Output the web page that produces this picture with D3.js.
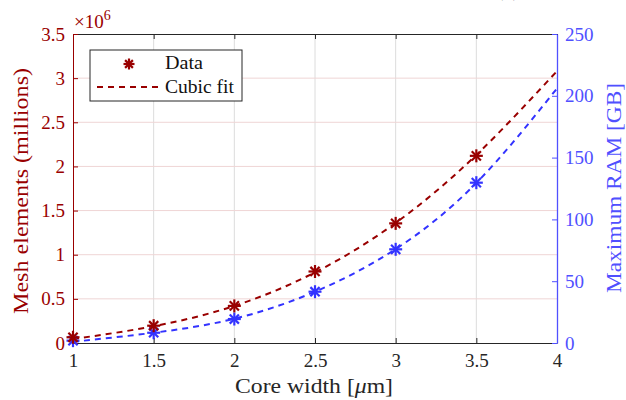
<!DOCTYPE html>
<html><head><meta charset="utf-8">
<script src="https://cdn.jsdelivr.net/npm/d3@7"></script>
<style>
html,body{margin:0;padding:0;background:#fff;}
svg{display:block;}
text{font-family:"Liberation Serif","DejaVu Serif",serif;}
</style></head>
<body>
<svg id="chart" width="626" height="400"></svg>
<script>
(function(){
// Data
const coreWidth = [1, 1.5, 2, 2.5, 3, 3.5];
const meshElements = [0.065e6, 0.196e6, 0.42e6, 0.81e6, 1.355e6, 2.12e6];
const maxRAM = [1.9, 8.3, 19.4, 41.5, 75.8, 129.7];
const fitX = [1, 1.5, 2, 2.5, 3, 3.5, 4];
const meshFit = [0.045e6, 0.19e6, 0.42e6, 0.80e6, 1.36e6, 2.13e6, 3.08e6];
const ramFit = [1.0, 8.3, 19.6, 41.5, 76.0, 129.5, 206];
const xTicks = [1, 1.5, 2, 2.5, 3, 3.5, 4];
const leftTicks = [0, 0.5e6, 1e6, 1.5e6, 2e6, 2.5e6, 3e6, 3.5e6];
const rightTicks = [0, 50, 100, 150, 200, 250];

const RED = "#990000", BLUE = "#3333ff", BLUEAX = "#5050ff";
const svg = d3.select("#chart");
const L = 73, R = 557, T = 34, B = 343;
const x = d3.scaleLinear().domain([1, 4]).range([L, R]);
const yL = d3.scaleLinear().domain([0, 3.5e6]).range([B, T]);
const yR = d3.scaleLinear().domain([0, 250]).range([B, T]);

// grid
const g = svg.append("g");
g.selectAll(".vg").data(xTicks.slice(1, -1)).enter().append("line")
  .attr("x1", d => x(d)).attr("x2", d => x(d)).attr("y1", T).attr("y2", B)
  .attr("stroke", "#dcdcdc").attr("stroke-width", 1);
g.selectAll(".hg").data(leftTicks.slice(1, -1)).enter().append("line")
  .attr("x1", L).attr("x2", R).attr("y1", d => yL(d)).attr("y2", d => yL(d))
  .attr("stroke", "#efd5d5").attr("stroke-width", 1);

// axes
const tickLen = 5, FS = 19;
const axB = svg.append("g").attr("transform", `translate(0,${B})`)
  .call(d3.axisBottom(x).tickValues(xTicks).tickSizeInner(-tickLen).tickSizeOuter(0).tickPadding(11).tickFormat(d3.format("")));
axB.select(".domain").attr("stroke", "#262626");
axB.selectAll(".tick line").attr("stroke", "#262626");
axB.selectAll("text").attr("fill", "#262626").attr("font-size", FS).attr("font-family", "Liberation Serif");

const axT = svg.append("g").attr("transform", `translate(0,${T})`)
  .call(d3.axisTop(x).tickValues(xTicks).tickSizeInner(-tickLen).tickSizeOuter(0).tickFormat(""));
axT.select(".domain").attr("stroke", "#262626");
axT.selectAll(".tick line").attr("stroke", "#262626");

const axL = svg.append("g").attr("transform", `translate(${L},0)`)
  .call(d3.axisLeft(yL).tickValues(leftTicks).tickSizeInner(-tickLen).tickSizeOuter(0).tickPadding(8)
    .tickFormat(d => d3.format("")(d / 1e6)));
axL.select(".domain").attr("stroke", RED);
axL.selectAll(".tick line").attr("stroke", RED);
axL.selectAll("text").attr("fill", RED).attr("font-size", FS).attr("font-family", "Liberation Serif");

const axR = svg.append("g").attr("transform", `translate(${R},0)`)
  .call(d3.axisRight(yR).tickValues(rightTicks).tickSizeInner(-tickLen).tickSizeOuter(0).tickPadding(8));
axR.select(".domain").attr("stroke", BLUEAX).attr("stroke-width", 1.3);
axR.selectAll(".tick line").attr("stroke", BLUEAX);
axR.selectAll("text").attr("fill", BLUEAX).attr("font-size", FS).attr("font-family", "Liberation Serif");

// fit lines
const lineL = d3.line().x((d, i) => x(fitX[i])).y(d => yL(d)).curve(d3.curveNatural);
const lineR = d3.line().x((d, i) => x(fitX[i])).y(d => yR(d)).curve(d3.curveNatural);
svg.append("path").attr("d", lineR(ramFit)).attr("fill", "none").attr("stroke", BLUE)
  .attr("stroke-width", 2).attr("stroke-dasharray", "6,5");
svg.append("path").attr("d", lineL(meshFit)).attr("fill", "none").attr("stroke", RED)
  .attr("stroke-width", 2).attr("stroke-dasharray", "6,5");

// asterisk markers
function star(sel, cx, cy, color, r) {
  const gg = sel.append("g").attr("transform", `translate(${cx},${cy})`)
    .attr("stroke", color).attr("stroke-width", 2.2);
  for (let k = 0; k < 4; k++) {
    const a = k * Math.PI / 4;
    gg.append("line").attr("x1", -r * Math.cos(a)).attr("y1", -r * Math.sin(a))
      .attr("x2", r * Math.cos(a)).attr("y2", r * Math.sin(a));
  }
}
coreWidth.forEach((c, i) => star(svg, x(c), yR(maxRAM[i]), BLUE, 6.5));
coreWidth.forEach((c, i) => star(svg, x(c), yL(meshElements[i]), RED, 6.5));

// multiplier
const mul = svg.append("text").attr("x", 74).attr("y", 28).attr("fill", RED).attr("font-size", 19);
mul.append("tspan").text("×10");
mul.append("tspan").attr("dy", -8).attr("font-size", 14).text("6");

// axis labels
svg.append("text").attr("transform", `translate(28,191) rotate(-90)`)
  .attr("text-anchor", "middle").attr("fill", RED).attr("font-size", 21)
  .attr("textLength", 246).attr("lengthAdjust", "spacingAndGlyphs").text("Mesh elements (millions)");
svg.append("text").attr("transform", `translate(621,188) rotate(-90)`)
  .attr("text-anchor", "middle").attr("fill", BLUEAX).attr("font-size", 21)
  .attr("textLength", 210).attr("lengthAdjust", "spacingAndGlyphs").text("Maximum RAM [GB]");
const xl = svg.append("text").attr("x", 314).attr("y", 393).attr("text-anchor", "middle")
  .attr("fill", "#262626").attr("font-size", 21)
  .attr("textLength", 158).attr("lengthAdjust", "spacingAndGlyphs");
xl.append("tspan").text("Core width [");
xl.append("tspan").attr("font-style", "italic").text("μ");
xl.append("tspan").text("m]");

// panel label (cut off at top, as in the reference)
svg.append("text").attr("x", 508).attr("y", -4).attr("text-anchor", "middle")
  .attr("fill", "#262626").attr("font-size", 21).text("(a)");

// legend
const lg = svg.append("g");
lg.append("rect").attr("x", 90).attr("y", 50).attr("width", 152).attr("height", 51)
  .attr("fill", "#fff").attr("stroke", "#262626").attr("stroke-width", 1);
star(lg, 129, 64, RED, 5.5);
lg.append("line").attr("x1", 97).attr("x2", 160).attr("y1", 87).attr("y2", 87)
  .attr("stroke", RED).attr("stroke-width", 2).attr("stroke-dasharray", "6,5");
lg.append("text").attr("x", 165).attr("y", 69).attr("fill", "#111").attr("font-size", 19)
  .attr("textLength", 38).attr("lengthAdjust", "spacingAndGlyphs").text("Data");
lg.append("text").attr("x", 165).attr("y", 93).attr("fill", "#111").attr("font-size", 19)
  .attr("textLength", 69).attr("lengthAdjust", "spacingAndGlyphs").text("Cubic fit");
})();
</script>
</body></html>
